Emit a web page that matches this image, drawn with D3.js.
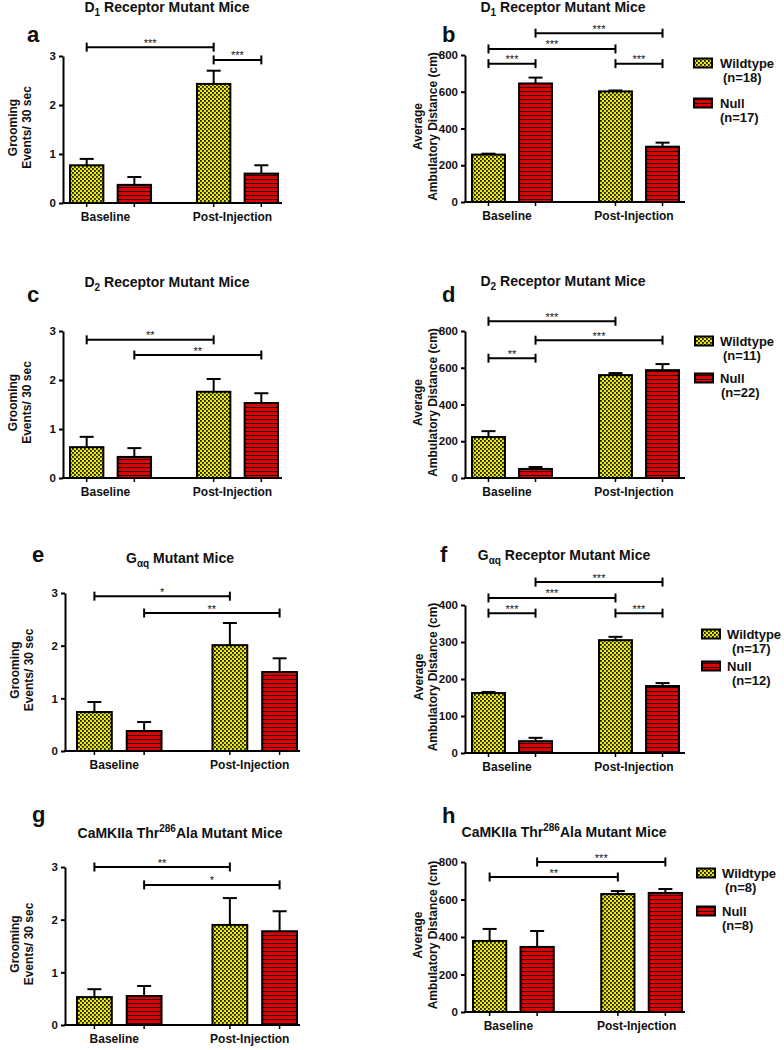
<!DOCTYPE html>
<html><head><meta charset="utf-8">
<script src="https://cdn.jsdelivr.net/npm/d3@7"></script>
<style>
body{margin:0;background:#fff}
svg text{font-family:"Liberation Sans",Arial,sans-serif;font-weight:bold;fill:#111}
</style>
</head><body>
<svg id="chart" width="784" height="1050"></svg>
<script>
// ---------------- DATA ----------------
const groupLabels = ["Baseline", "Post-Injection"];
const seriesLabels = ["Wildtype", "Null"];
const groomAxisLabel = ["Grooming", "Events/ 30 sec"];
const distAxisLabel = ["Average", "Ambulatory Distance (cm)"];
const groomTicks = [0, 1, 2, 3];
const distTicks = [0, 200, 400, 600, 800];
const gaqDistTicks = [0, 100, 200, 300, 400];

// titles: [text, 0 normal | 1 subscript | -1 superscript]
const titleD1 = [["D", 0], ["1", 1], [" Receptor Mutant Mice", 0]];
const titleD2 = [["D", 0], ["2", 1], [" Receptor Mutant Mice", 0]];
const titleGaqGroom = [["G", 0], ["\u03b1q", 1], [" Mutant Mice", 0]];
const titleGaqDist = [["G", 0], ["\u03b1q", 1], [" Receptor Mutant Mice", 0]];
const titleCaMK = [["CaMKIIa Thr", 0], ["286", -1], ["Ala Mutant Mice", 0]];

// means (Baseline, Post-Injection) and SEM
const aWildtype = [0.77, 2.43], aWildtypeSem = [0.13, 0.27];
const aNull     = [0.37, 0.60], aNullSem     = [0.16, 0.17];
const bWildtype = [258, 602],   bWildtypeSem = [5, 5];
const bNull     = [645, 301],   bNullSem     = [32, 22];
const cWildtype = [0.63, 1.76], cWildtypeSem = [0.21, 0.26];
const cNull     = [0.43, 1.53], cNullSem     = [0.18, 0.20];
const dWildtype = [223, 560],   dWildtypeSem = [32, 11];
const dNull     = [49, 587],    dNullSem     = [11, 33];
const eWildtype = [0.74, 2.01], eWildtypeSem = [0.19, 0.42];
const eNull     = [0.38, 1.50], eNullSem     = [0.17, 0.26];
const fWildtype = [162, 305],   fWildtypeSem = [3, 9];
const fNull     = [32, 181],    fNullSem     = [9, 8];
const gWildtype = [0.53, 1.90], gWildtypeSem = [0.15, 0.51];
const gNull     = [0.55, 1.78], gNullSem     = [0.19, 0.38];
const hWildtype = [379, 629],   hWildtypeSem = [64, 16];
const hNull     = [347, 635],   hNullSem     = [85, 21];

// group sizes for legends
const bN = ["(n=18)", "(n=17)"];
const dN = ["(n=11)", "(n=22)"];
const fN = ["(n=17)", "(n=12)"];
const hN = ["(n=8)", "(n=8)"];

// significance brackets: [fromBar, toBar, level (data units), label]; bars: 0 WT-Base, 1 Null-Base, 2 WT-Post, 3 Null-Post
const aSig = [[0, 2, 3.18, "***"], [2, 3, 2.92, "***"]];
const bSig = [[1, 3, 919, "***"], [0, 2, 833, "***"], [0, 1, 753, "***"], [2, 3, 753, "***"]];
const cSig = [[0, 2, 2.82, "**"], [1, 3, 2.51, "**"]];
const dSig = [[0, 2, 853, "***"], [1, 3, 750, "***"], [0, 1, 652, "**"]];
const eSig = [[0, 2, 2.94, "*"], [1, 3, 2.62, "**"]];
const fSig = [[1, 3, 462, "***"], [0, 2, 419, "***"], [0, 1, 378, "***"], [2, 3, 378, "***"]];
const gSig = [[0, 2, 3.0, "**"], [1, 3, 2.66, "*"]];
const hSig = [[1, 3, 800, "***"], [0, 2, 720, "**"]];

// ---------------- PANELS (data refs + layout) ----------------
const panels = [
 {id:"a", title:titleD1, wt:aWildtype, wtS:aWildtypeSem, nu:aNull, nuS:aNullSem, sig:aSig, ticks:groomTicks, ylab:groomAxisLabel,
  L:{ax:63, ae:282, yt:56, yb:203, b0:70, b1:278, pi:0.362, letter:[27,42], title:[167,12], ylx:[13,27]}},
 {id:"b", title:titleD1, wt:bWildtype, wtS:bWildtypeSem, nu:bNull, nuS:bNullSem, sig:bSig, ticks:distTicks, ylab:distAxisLabel, n:bN,
  L:{ax:465, ae:685, yt:55, yb:202, b0:472, b1:679, pi:0.37, letter:[442,42], title:[563,12], ylx:[418,433],
     lg:{sx:694, tx:720, ys:[63,103], ndx:[3,0]}}},
 {id:"c", title:titleD2, wt:cWildtype, wtS:cWildtypeSem, nu:cNull, nuS:cNullSem, sig:cSig, ticks:groomTicks, ylab:groomAxisLabel,
  L:{ax:63, ae:282, yt:331, yb:478, b0:70, b1:278, pi:0.362, letter:[27,302], title:[167,287], ylx:[13,27]}},
 {id:"d", title:titleD2, wt:dWildtype, wtS:dWildtypeSem, nu:dNull, nuS:dNullSem, sig:dSig, ticks:distTicks, ylab:distAxisLabel, n:dN,
  L:{ax:465, ae:685, yt:331, yb:478, b0:472, b1:679, pi:0.37, letter:[442,302], title:[563,286], ylx:[418,433],
     lg:{sx:695, tx:720, ys:[341,378], ndx:[3,1]}}},
 {id:"e", title:titleGaqGroom, wt:eWildtype, wtS:eWildtypeSem, nu:eNull, nuS:eNullSem, sig:eSig, ticks:groomTicks, ylab:groomAxisLabel,
  L:{ax:65, ae:300, yt:593, yb:751, b0:77, b1:297, pi:0.376, letter:[32,562], title:[180,563], ylx:[15,29]}},
 {id:"f", title:titleGaqDist, wt:fWildtype, wtS:fWildtypeSem, nu:fNull, nuS:fNullSem, sig:fSig, ticks:gaqDistTicks, ylab:distAxisLabel, n:fN,
  L:{ax:465, ae:685, yt:605, yb:753, b0:472, b1:679, pi:0.37, letter:[440,562], title:[564,560], ylx:[419,433],
     lg:{sx:702, tx:727, ys:[634,666], ndx:[5,5]}}},
 {id:"g", title:titleCaMK, wt:gWildtype, wtS:gWildtypeSem, nu:gNull, nuS:gNullSem, sig:gSig, ticks:groomTicks, ylab:groomAxisLabel,
  L:{ax:65, ae:300, yt:867, yb:1025, b0:77, b1:297, pi:0.376, letter:[32,822], title:[180,838], ylx:[15,29]}},
 {id:"h", title:titleCaMK, wt:hWildtype, wtS:hWildtypeSem, nu:hNull, nuS:hNullSem, sig:hSig, ticks:distTicks, ylab:distAxisLabel, n:hN,
  L:{ax:465, ae:685, yt:862, yb:1012, b0:473, b1:682, pi:0.37, letter:[442,823], title:[564,837], ylx:[418,433],
     lg:{sx:697, tx:722, ys:[873,911], ndx:[3,0]}}}
];

// ---------------- DRAW ----------------
const svg = d3.select("#chart");
const defs = svg.append("defs");
const chk = defs.append("pattern").attr("id","checker").attr("patternUnits","userSpaceOnUse")
  .attr("width",4).attr("height",4);
chk.append("rect").attr("width",4).attr("height",4).attr("fill","#e8e81a");
chk.append("rect").attr("x",0).attr("y",0).attr("width",1.8).attr("height",1.8).attr("fill","#1a1a00");
chk.append("rect").attr("x",2).attr("y",2).attr("width",1.8).attr("height",1.8).attr("fill","#1a1a00");
const str = defs.append("pattern").attr("id","stripes").attr("patternUnits","userSpaceOnUse")
  .attr("width",4).attr("height",4);
str.append("rect").attr("width",4).attr("height",4).attr("fill","#e00000");
str.append("rect").attr("y",3).attr("width",4).attr("height",1).attr("fill","#200000");
const fills = {"Wildtype":"url(#checker)", "Null":"url(#stripes)"};

function drawTitle(g, parts, x, y){
  const t = g.append("text").attr("x",x).attr("y",y).attr("text-anchor","middle")
    .style("font-size","14px");
  let shift = 0;
  parts.forEach(([s, k]) => {
    const target = k === 1 ? 4 : (k === -1 ? -6 : 0);
    const ts = t.append("tspan").text(s).attr("dy", target - shift);
    if (k !== 0) ts.style("font-size","10px");
    shift = target;
  });
}

panels.forEach(p => {
  const L = p.L;
  const g = svg.append("g");
  const ymax = p.ticks[p.ticks.length-1];
  const y = d3.scaleLinear().domain([0, ymax]).range([L.yb, L.yt]);
  const xg = d3.scaleBand().domain(groupLabels).range([L.b0, L.b1]).paddingInner(L.pi).paddingOuter(0);
  const xs = d3.scaleBand().domain(seriesLabels).range([0, xg.bandwidth()]).paddingInner(0.3).paddingOuter(0);

  const bars = [];
  groupLabels.forEach((gl, gi) => {
    bars.push({g:gl, s:"Wildtype", v:p.wt[gi], e:p.wtS[gi]});
    bars.push({g:gl, s:"Null", v:p.nu[gi], e:p.nuS[gi]});
  });
  const cx = d => xg(d.g) + xs(d.s) + xs.bandwidth()/2;

  // panel letter & title
  g.append("text").attr("x",L.letter[0]).attr("y",L.letter[1]).style("font-size","22px").text(p.id);
  drawTitle(g, p.title, L.title[0], L.title[1]);

  // error bars (drawn below bars)
  const eb = g.append("g").attr("stroke","#000").attr("stroke-width",2);
  bars.forEach(d => {
    eb.append("line").attr("x1",cx(d)).attr("x2",cx(d)).attr("y1",y(d.v)).attr("y2",y(d.v+d.e));
    eb.append("line").attr("x1",cx(d)-7).attr("x2",cx(d)+7).attr("y1",y(d.v+d.e)).attr("y2",y(d.v+d.e));
  });

  // bars
  g.append("g").selectAll("rect").data(bars).join("rect")
    .attr("x", d => xg(d.g) + xs(d.s))
    .attr("y", d => y(d.v))
    .attr("width", xs.bandwidth())
    .attr("height", d => y(0) - y(d.v))
    .attr("fill", d => fills[d.s])
    .attr("stroke","#000").attr("stroke-width",2);

  // y axis
  const ya = g.append("g").attr("transform",`translate(${L.ax},0)`)
    .call(d3.axisLeft(y).tickValues(p.ticks).tickFormat(d3.format("d")).tickSize(4).tickSizeOuter(0).tickPadding(3));
  ya.select(".domain").attr("stroke","#000").attr("stroke-width",2);
  ya.selectAll(".tick line").attr("stroke","#000").attr("stroke-width",2);
  ya.selectAll(".tick text").style("font-size","11.5px").style("font-family","'Liberation Sans',Arial,sans-serif")
    .style("font-weight","bold").attr("fill","#111");

  // x axis line + ticks at bar centres
  g.append("line").attr("x1",L.ax-1).attr("x2",L.ae).attr("y1",L.yb).attr("y2",L.yb)
    .attr("stroke","#000").attr("stroke-width",2);
  bars.forEach(d => {
    g.append("line").attr("x1",cx(d)).attr("x2",cx(d)).attr("y1",L.yb).attr("y2",L.yb+4)
      .attr("stroke","#000").attr("stroke-width",1.5);
  });
  groupLabels.forEach(gl => {
    g.append("text").attr("x", xg(gl) + xg.bandwidth()/2 - 5).attr("y", L.yb + 18)
      .attr("text-anchor","middle").style("font-size","12px").text(gl);
  });

  // y label
  const ymid = (L.yt + L.yb)/2 - 2;
  p.ylab.forEach((t, i) => {
    g.append("text").attr("transform",`translate(${L.ylx[i]},${ymid}) rotate(-90)`)
      .attr("text-anchor","middle").attr("dominant-baseline","central")
      .style("font-size","12px").text(t);
  });

  // significance brackets
  const sg = g.append("g");
  p.sig.forEach(([a, b, lv, lab]) => {
    const x1 = cx(bars[a]), x2 = cx(bars[b]), yy = y(lv);
    sg.append("line").attr("x1",x1).attr("x2",x2).attr("y1",yy).attr("y2",yy).attr("stroke","#000").attr("stroke-width",2);
    sg.append("line").attr("x1",x1).attr("x2",x1).attr("y1",yy-4.5).attr("y2",yy+4.5).attr("stroke","#000").attr("stroke-width",2);
    sg.append("line").attr("x1",x2).attr("x2",x2).attr("y1",yy-4.5).attr("y2",yy+4.5).attr("stroke","#000").attr("stroke-width",2);
    sg.append("text").attr("x",(x1+x2)/2).attr("y",yy-0.5).attr("text-anchor","middle")
      .style("font-size","11px").style("font-weight","normal").attr("fill","#444").text(lab);
  });

  // legend
  if (L.lg) {
    seriesLabels.forEach((s, i) => {
      const cy = L.lg.ys[i];
      g.append("rect").attr("x",L.lg.sx).attr("y",cy-4.5).attr("width",18).attr("height",9)
        .attr("fill",fills[s]).attr("stroke","#000").attr("stroke-width",2);
      g.append("text").attr("x",L.lg.tx).attr("y",cy+5).style("font-size","13px").text(s);
      g.append("text").attr("x",L.lg.tx + L.lg.ndx[i]).attr("y",cy+19).style("font-size","13px").text(p.n[i]);
    });
  }
});
</script>
</body></html>
